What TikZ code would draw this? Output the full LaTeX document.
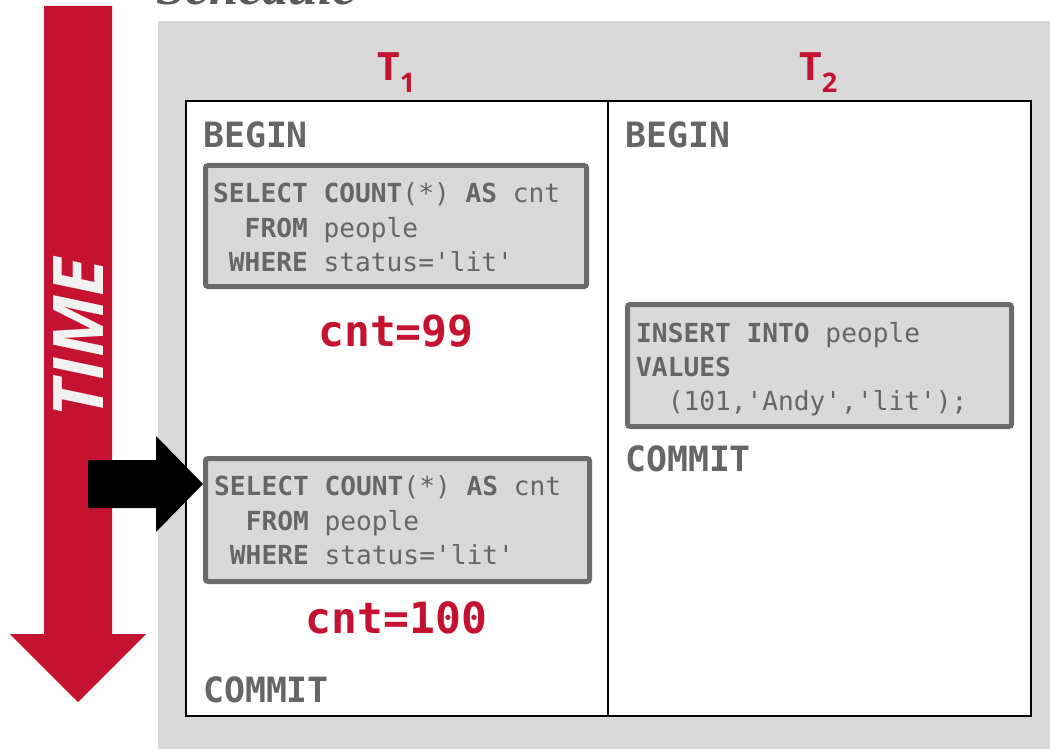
\documentclass[tikz,border=0pt]{standalone}
\usepackage{fontspec}
\setmonofont{DejaVu Sans Mono}
\newfontfamily\opensans{Open Sans}
\newfontfamily\schedfont{Liberation Serif}
\definecolor{bggray}{HTML}{D9D9D9}
\definecolor{boxgray}{HTML}{6B6B6B}
\definecolor{txtgray}{HTML}{666666}
\definecolor{timered}{HTML}{C41230}
\definecolor{timetxt}{HTML}{F2F2F2}
\definecolor{schedgray}{HTML}{595959}
\begin{document}
\begin{tikzpicture}[x=1pt,y=-1pt,
  codebox/.style={draw=boxgray, line width=5pt, fill=bggray, rounded corners=2.5pt, inner sep=0pt},
  codeln/.style={font=\ttfamily\fontsize{26.2}{30}\selectfont, text=txtgray, inner sep=0pt, anchor=base west},
  kwd/.style={font=\ttfamily\bfseries\fontsize{34.8}{40}\selectfont, text=txtgray, inner sep=0pt, anchor=base west},
  cntlab/.style={font=\ttfamily\bfseries\fontsize{43}{48}\selectfont, text=timered, inner sep=0pt, anchor=base},
  tlab/.style={font=\opensans\bfseries\fontsize{39}{44}\selectfont, text=timered, inner sep=0pt, anchor=base west},
]
\useasboundingbox (0,0) rectangle (1050,749);
\fill[white] (0,0) rectangle (1050,749);
% schedule (cut off at top)
\node[font=\schedfont\bfseries\itshape\fontsize{53}{56}\selectfont, text=schedgray, inner sep=0pt, anchor=base west] (sched) at (156,5) {Schedule};
% gray background
\fill[bggray] (158,21) rectangle (1050,749);
% time arrow
\fill[timered] (44,6) -- (112,6) -- (112,634) -- (146,634) -- (78,702) -- (10,634) -- (44,634) -- cycle;
\node[font=\opensans\bfseries\itshape\fontsize{70}{72}\selectfont, text=timetxt, rotate=90, inner sep=0pt] (time) at (79,338) {TIME};
% table
\fill[white] (186,101) rectangle (1031,716);
\draw[line width=2pt] (186,101) rectangle (1031,716);
\draw[line width=2pt] (608,101) -- (608,716);
% column labels
\node[tlab] (t1) at (377,81) {T\raisebox{-12pt}{\fontsize{27}{28}\selectfont 1}};
\node[tlab] (t2) at (799,81) {T\raisebox{-12pt}{\fontsize{27}{28}\selectfont 2}};
% T1 column
\node[kwd] (b1) at (203,148) {BEGIN};
\node[codebox, minimum width=381pt, minimum height=121pt] (q1) at (396,226) {};
\node[codeln] (q1a) at (213,202) {\textbf{SELECT} \textbf{COUNT}(*) \textbf{AS} cnt};
\node[codeln] (q1b) at (213,237) {\ \ \textbf{FROM} people};
\node[codeln] (q1c) at (213,271) {\ \textbf{WHERE} status='lit'};
\node[cntlab] (c99) at (396,346) {cnt=99};
\node[codebox, minimum width=384pt, minimum height=123pt] (q2) at (397.5,520) {};
\node[codeln] (q2a) at (214,495) {\textbf{SELECT} \textbf{COUNT}(*) \textbf{AS} cnt};
\node[codeln] (q2b) at (214,530) {\ \ \textbf{FROM} people};
\node[codeln] (q2c) at (214,564) {\ \textbf{WHERE} status='lit'};
\node[cntlab] (c100) at (396.5,633) {cnt=100};
\node[kwd] (cm1) at (203,702) {COMMIT};
% T2 column
\node[kwd] (b2) at (625,148) {BEGIN};
\node[codebox, minimum width=384pt, minimum height=122pt] (q3) at (819.5,365.5) {};
\node[codeln] (q3a) at (636,342) {\textbf{INSERT} \textbf{INTO} people};
\node[codeln] (q3b) at (636,376) {\textbf{VALUES}};
\node[codeln] (q3c) at (636,410) {\ \ (101,'Andy','lit');};
\node[kwd] (cm2) at (625,471) {COMMIT};
% pointer arrow
\fill[black] (88,460) -- (156,460) -- (156,436) -- (203,484) -- (156,532) -- (156,508) -- (88,508) -- cycle;
\end{tikzpicture}
\end{document}
